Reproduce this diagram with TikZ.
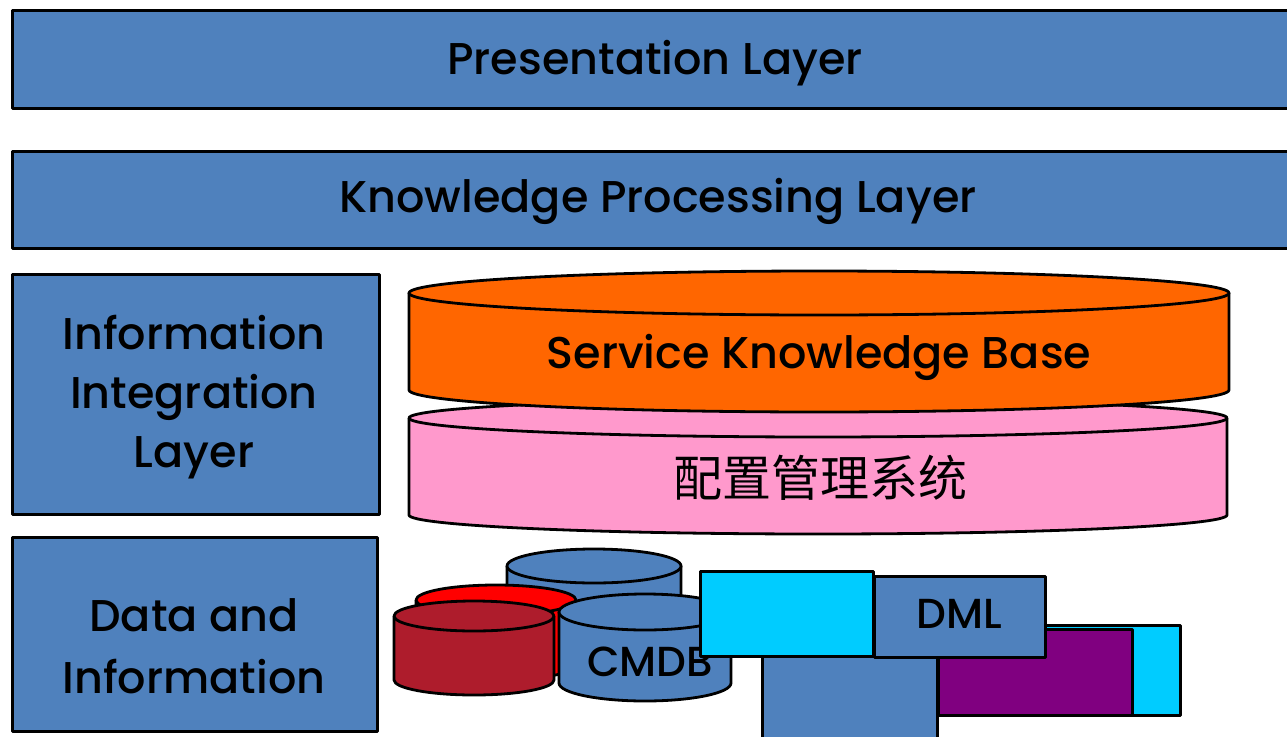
\documentclass[tikz,border=0pt]{standalone}
\usepackage{fontspec}
\setmainfont{Poppins Medium}
\newfontfamily\cjk{Noto Sans CJK SC}
\definecolor{lblue}{HTML}{4F81BD}
\definecolor{skb}{HTML}{FF6600}
\definecolor{cms}{HTML}{FF99CC}
\definecolor{dred}{HTML}{AE1C2C}
\definecolor{cyanb}{HTML}{00CCFF}
\definecolor{purp}{HTML}{800080}
\tikzset{
  ol/.style={draw=black, line width=2.8pt, line join=round},
  box/.style={ol, rectangle, inner sep=0pt, fill=lblue},
  big/.style={font=\fontsize{44.5}{59}\selectfont},
  mid/.style={font=\fontsize{42}{46}\selectfont},
}
\newcommand\mycyl[7]{% name, cx, ytop, ybot, rx, ry, fill
  \fill[#7] (#2-#5,#3) -- (#2-#5,#4) arc[start angle=180,end angle=360,x radius=#5,y radius=#6] -- (#2+#5,#3) -- cycle;
  \draw[ol] (#2-#5,#3) -- (#2-#5,#4) arc[start angle=180,end angle=360,x radius=#5,y radius=#6] -- (#2+#5,#3);
  \draw[ol,fill=#7] (#2,#3) ellipse[x radius=#5,y radius=#6];
  \coordinate (#1) at (#2,{(#3+#4)/2});
}
\begin{document}
\begin{tikzpicture}[x=1pt,y=1pt]
\useasboundingbox (0,0) rectangle (1287,-736);
% layers
\node[box, minimum width=1300pt, minimum height=98pt, anchor=north west] (pres) at (11,-9) {};
\node[big] (prest) at (655,-63) {Presentation Layer};
\node[box, minimum width=1300pt, minimum height=97pt, anchor=north west] (kpl) at (11,-150) {};
\node[big] (kplt) at (658,-201) {Knowledge Processing Layer};
\node[box, minimum width=367pt, minimum height=240pt, anchor=north west] (iil) at (11,-273) {};
\node[big, align=center] (iilt) at (194,-397) {Information\\Integration\\Layer};
\node[box, minimum width=365pt, minimum height=194pt, anchor=north west] (dil) at (11,-536) {};
\node[big, font=\fontsize{44.5}{62}\selectfont, align=center] (dilt) at (194,-646) {Data and\\Information};
% big cylinders
\mycyl{cmsc}{818}{-418}{-515}{409}{19}{cms}
\node[font=\cjk\fontsize{49}{55}\selectfont] (cmst) at (820,-478) {配置管理系统};
\mycyl{skbc}{819}{-293}{-390}{410}{22}{skb}
\node[big] (skbt) at (819,-357) {Service Knowledge Base};
% small cylinders
\mycyl{bk}{594}{-566}{-650}{87}{17}{lblue}
\mycyl{rd}{496}{-600}{-665}{80}{15}{red}
\mycyl{dr}{474}{-616}{-680}{80}{15}{dred}
\mycyl{cm}{645}{-612}{-683}{86}{18}{lblue}
\node[mid] (cmt) at (650,-662) {CMDB};
% boxes
\node[ol, fill=cyanb, minimum width=138pt, minimum height=90pt, anchor=north east, inner sep=0pt] (cyr) at (1182,-624) {};
\node[ol, fill=purp, minimum width=194pt, minimum height=86pt, anchor=north west, inner sep=0pt] (pur) at (937,-628) {};
\node[box, minimum width=175pt, minimum height=100pt, anchor=north west] (low) at (761,-655) {};
\node[ol, fill=cyanb, minimum width=173pt, minimum height=85pt, anchor=north west, inner sep=0pt] (cyl) at (699,-570) {};
\node[box, minimum width=171pt, minimum height=81pt, anchor=north west] (dml) at (873,-575) {};
\node[mid] (dmlt) at (959,-614) {DML};
\end{tikzpicture}
\end{document}
